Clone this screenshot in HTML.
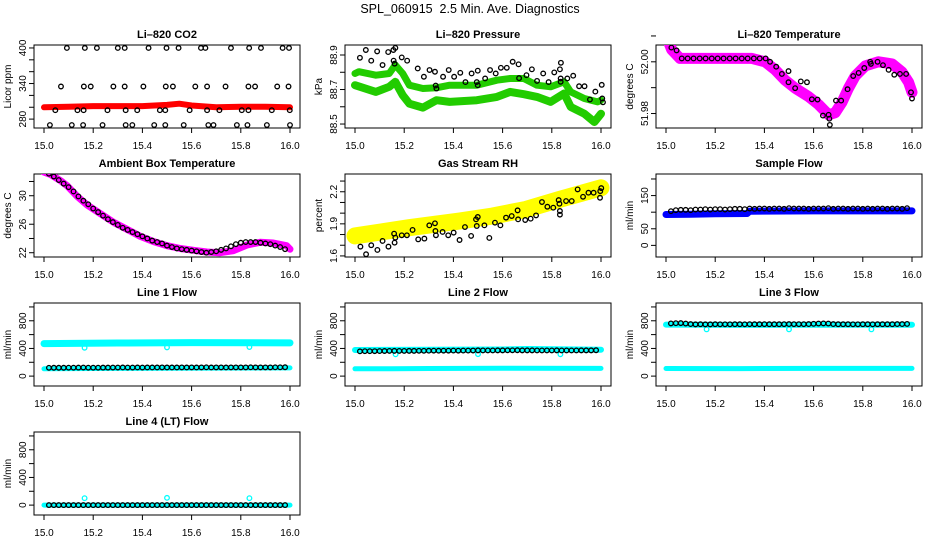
<!DOCTYPE html>
<html><head><meta charset="utf-8"><style>
body{margin:0;background:#fff;}
svg{display:block;font-family:"Liberation Sans",Arial,sans-serif;}
</style></head><body>
<svg id="c" width="936" height="540" viewBox="0 0 936 540">
<text x="470" y="13" font-size="12.5" text-anchor="middle">SPL_060915&#160; 2.5 Min. Ave. Diagnostics</text>
</svg>
<script>
// Shared 2.5-minute average times
const avgTimes=[15.02,15.04,15.06,15.08,15.10,15.12,15.14,15.16,15.18,15.20,15.22,15.24,15.26,15.28,15.30,15.32,15.34,15.36,15.38,15.40,15.42,15.44,15.46,15.48,15.50,15.52,15.54,15.56,15.58,15.60,15.62,15.64,15.66,15.68,15.70,15.72,15.74,15.76,15.78,15.80,15.82,15.84,15.86,15.88,15.90,15.92,15.94,15.96,15.98];
const xTicks=[15.0,15.2,15.4,15.6,15.8,16.0];
const xTickLabels=["15.0","15.2","15.4","15.6","15.8","16.0"];

// CO2
const co2Times=[15.093,15.166,15.215,15.300,15.328,15.425,15.498,15.547,15.638,15.656,15.760,15.834,15.882,15.970,15.996,
15.069,15.162,15.190,15.282,15.328,15.404,15.495,15.524,15.615,15.663,15.738,15.831,15.858,15.948,15.994,
15.046,15.136,15.161,15.258,15.332,15.379,15.471,15.493,15.592,15.663,15.713,15.804,15.831,15.926,15.999,
15.024,15.113,15.159,15.238,15.332,15.359,15.448,15.493,15.568,15.668,15.689,15.784,15.827,15.906,16.000];
const co2Values=[400,400,400,400,400,400,400,400,400,400,400,400,400,400,400,
335,335,335,335,335,335,335,335,335,335,335,335,335,335,335,
295,295,295,295,295,295,295,295,295,295,295,295,295,295,295,
270,270,270,270,270,270,270,270,270,270,270,270,270,270,270];
const co2BandTimes=[15.0,15.1,15.2,15.3,15.4,15.5,15.55,15.6,15.7,15.8,15.9,16.0];
const co2BandValues=[300,301,302,302,302,304,306,303,300,301,301,300];

// Pressure
const presTimes=[15.020,15.044,15.066,15.090,15.112,15.135,15.156,15.164,15.157,15.161,15.190,15.212,15.255,15.280,15.303,15.325,15.328,15.331,15.358,15.381,15.403,15.428,15.449,15.474,15.495,15.499,15.499,15.529,15.549,15.572,15.593,15.617,15.641,15.665,15.667,15.697,15.719,15.740,15.765,15.787,15.810,15.833,15.837,15.836,15.836,15.863,15.887,15.911,15.933,15.955,15.977,16.003,16.005,16.008];
const presValues=[88.884,88.929,88.867,88.921,88.842,88.917,88.929,88.941,88.867,88.850,88.886,88.867,88.822,88.774,88.813,88.803,88.723,88.706,88.774,88.813,88.774,88.797,88.743,88.793,88.743,88.809,88.725,88.764,88.813,88.793,88.826,88.826,88.861,88.846,88.766,88.783,88.817,88.750,88.793,88.743,88.799,88.817,88.855,88.764,88.745,88.764,88.780,88.719,88.719,88.642,88.688,88.727,88.648,88.626];
const presUpperTimes=[15.0,15.016,15.085,15.139,15.164,15.194,15.221,15.276,15.331,15.385,15.495,15.577,15.631,15.686,15.740,15.795,15.850,15.877,15.932,15.986,16.0];
const presUpperValues=[88.793,88.803,88.783,88.793,88.842,88.793,88.725,88.706,88.710,88.725,88.725,88.754,88.764,88.764,88.725,88.716,88.745,88.686,88.648,88.628,88.638];
const presLowerTimes=[15.0,15.085,15.139,15.164,15.194,15.221,15.276,15.331,15.385,15.495,15.577,15.631,15.686,15.740,15.795,15.850,15.877,15.932,15.973,16.0];
const presLowerValues=[88.725,88.686,88.716,88.745,88.667,88.618,88.595,88.638,88.628,88.638,88.657,88.686,88.673,88.657,88.628,88.677,88.599,88.560,88.512,88.560];

// Li-820 temperature
const tempTimes=[15.022,15.043,15.064,15.088,15.112,15.137,15.161,15.186,15.210,15.234,15.259,15.283,15.308,15.332,15.357,15.381,15.405,15.423,15.448,15.471,15.498,15.498,15.525,15.548,15.573,15.593,15.616,15.638,15.661,15.664,15.666,15.691,15.712,15.738,15.761,15.783,15.806,15.830,15.833,15.860,15.882,15.905,15.928,15.951,15.976,15.996,16.000];
const tempValues=[52.0055,52.0044,52.0013,52.0013,52.0013,52.0013,52.0013,52.0013,52.0013,52.0013,52.0013,52.0013,52.0013,52.0013,52.0013,52.0013,52.0013,52.0000,51.9981,51.9953,51.9964,51.9921,51.9898,51.9924,51.9921,51.9855,51.9854,51.9792,51.9795,51.9780,51.9756,51.9850,51.9850,51.9894,51.9945,51.9957,51.9976,52.0000,51.9992,52.0000,51.9987,51.9969,51.9950,51.9953,51.9953,51.9882,51.9858];
const tempBandTimes=[15.000,15.023,15.057,15.349,15.403,15.444,15.484,15.525,15.579,15.620,15.661,15.688,15.715,15.742,15.769,15.810,15.864,15.919,15.959,15.986,16.000];
const tempBandValues=[52.0102,52.0047,52.0013,52.0013,52.0000,51.9969,51.9929,51.9898,51.9866,51.9835,51.9795,51.9803,51.9843,51.9898,51.9945,51.9984,52.0000,51.9992,51.9961,51.9921,51.9882];

// Ambient box temperature
const ambValues=[33.1,32.7,32.2,31.7,31.2,30.6,29.9,29.3,28.8,28.2,27.7,27.2,26.7,26.3,25.9,25.5,25.2,24.9,24.6,24.3,24.0,23.7,23.5,23.3,23.0,22.8,22.6,22.5,22.4,22.3,22.2,22.1,22.0,22.1,22.2,22.4,22.6,22.9,23.2,23.4,23.5,23.5,23.5,23.4,23.3,23.2,23.0,22.8,22.5];
const ambBandTimes=[15.0,15.027,15.068,15.095,15.135,15.176,15.230,15.284,15.338,15.392,15.446,15.5,15.554,15.608,15.662,15.716,15.770,15.824,15.878,15.932,15.986,16.0];
const ambBandValues=[33.32,32.98,32.10,31.37,29.90,28.68,27.46,26.24,25.27,24.29,23.56,22.98,22.59,22.34,22.10,22.00,22.29,23.07,23.46,23.37,22.98,22.49];

// Gas stream RH
const rhTimes=[15.022,15.045,15.066,15.091,15.112,15.136,15.159,15.161,15.164,15.190,15.211,15.234,15.257,15.282,15.302,15.325,15.327,15.329,15.356,15.379,15.401,15.425,15.447,15.472,15.492,15.495,15.499,15.526,15.546,15.569,15.591,15.614,15.637,15.661,15.663,15.692,15.714,15.736,15.760,15.782,15.806,15.828,15.831,15.833,15.833,15.858,15.881,15.905,15.927,15.949,15.970,15.996,15.997,16.001];
const rhValues=[1.687,1.616,1.700,1.656,1.740,1.687,1.808,1.724,1.771,1.793,1.793,1.843,1.755,1.762,1.886,1.905,1.833,1.793,1.824,1.793,1.818,1.749,1.870,1.787,1.942,1.880,1.964,1.886,1.768,1.911,1.886,1.958,1.973,2.026,1.942,1.936,1.948,1.979,2.104,2.060,2.051,2.122,2.088,2.020,1.986,2.113,2.113,2.222,2.153,2.191,2.191,2.144,2.206,2.234];
const rhBandTimes=[15.0,15.22,15.424,15.56,15.695,15.83,16.0];
const rhBandValues=[1.787,1.864,1.926,1.973,2.035,2.128,2.237];

// Sample flow
const sampleValues=[103,106,107,107,106,108,108,109,108,109,109,108,109,110,110,109,111,110,111,111,110,111,111,110,112,111,111,111,110,111,111,111,112,110,111,111,110,111,111,110,111,110,111,111,110,111,111,110,112];
const sampleBandTimes=[15.0,15.1,15.2,15.33,15.34,15.6,16.0];
const sampleBandValues=[93,94,95,96,103,104,104];

// Line flows
const line1Values=[120,121,121,121,122,122,123,124,122,122,122,123,123,124,124,125,124,124,125,124,125,125,125,126,125,125,125,126,125,126,125,126,127,125,126,126,125,126,126,126,126,127,126,126,126,126,127,127,128];
const line1UpperTimes=[15.0,15.3,15.6,16.0];
const line1UpperValues=[470,478,484,480];
const line1LowerTimes=[15.0,15.3,16.0];
const line1LowerValues=[105,112,118];
const dipTimes=[15.165,15.5,15.835];
const line1DipValues=[410,415,420];
const line2Values=[358,360,360,361,362,363,364,365,364,364,365,365,366,366,367,368,367,368,368,369,368,369,369,370,372,371,371,371,372,372,373,373,374,372,372,372,371,371,371,371,372,371,371,371,371,372,372,372,374];
const line2UpperTimes=[15.0,15.3,15.6,15.7,16.0];
const line2UpperValues=[378,380,384,392,382];
const line2LowerTimes=[15.0,15.15,15.3,15.6,16.0];
const line2LowerValues=[105,106,110,115,112];
const line2DipValues=[315,318,316];
const line3Values=[762,765,766,760,752,748,750,748,748,750,749,749,749,750,750,749,751,750,750,751,750,750,750,751,752,751,751,751,752,756,760,762,760,752,750,750,750,749,749,750,750,749,750,750,750,750,752,752,754];
const line3UpperTimes=[15.0,15.3,15.6,16.0];
const line3UpperValues=[745,740,742,742];
const line3LowerTimes=[15.0,15.3,15.6,16.0];
const line3LowerValues=[110,108,112,112];
const line3DipValues=[676,676,676];
const line4Values=[0,0,0,0,0,0,0,0,0,0,0,0,0,0,0,0,0,0,0,0,0,0,0,0,0,0,0,0,0,0,0,0,0,0,0,0,0,0,0,0,0,0,0,0,0,0,0,0,0];
const line4BandTimes=[15.0,16.0];
const line4BandValues=[0,0];
const line4DipValues=[100,105,100];

const NS="http://www.w3.org/2000/svg";
const svg=document.getElementById('c');
const colLeft=[34,345,656], rowTop=[45,174,303,432], boxW=266, boxH=83;
function mk(tag,attrs,parent){const e=document.createElementNS(NS,tag);for(const k in attrs)e.setAttribute(k,attrs[k]);parent.appendChild(e);return e;}

function panel(p){
  const L=colLeft[p.col],T=rowTop[p.row];
  const g=mk('g',{},svg);
  
  
  const xs=v=>L+10+(v-15)*(boxW-20);
  const ys=v=>T+boxH-(v-p.ylim[0])/(p.ylim[1]-p.ylim[0])*boxH;
  const box=mk('rect',{x:L,y:T,width:boxW,height:boxH,fill:'none',stroke:'#000','stroke-width':1},g);
  
  
  const tt=mk('text',{x:L+boxW/2,y:T-7,'font-size':11,'font-weight':'bold','text-anchor':'middle'},g);
  tt.textContent=p.title;
  
  
  mk('line',{x1:xs(15),x2:xs(16),y1:T+boxH,y2:T+boxH,stroke:'#000'},g);
  xTicks.forEach((v,i)=>{
    mk('line',{x1:xs(v),x2:xs(v),y1:T+boxH,y2:T+boxH+5,stroke:'#000'},g);
    const t=mk('text',{x:xs(v),y:T+boxH+21,'font-size':10,'text-anchor':'middle'},g);
    t.textContent=xTickLabels[i];
    
    
  });
  p.yticks.forEach(v=>{mk('line',{x1:L-5,x2:L,y1:ys(v),y2:ys(v),stroke:'#000'},g);});
  p.ylabels.forEach(v=>{
    const t=mk('text',{x:0,y:0,'font-size':10,'text-anchor':'middle',transform:`translate(${L-8},${ys(v)}) rotate(-90)`},g);
    t.textContent=String(v);
    
    
  });
  const yl=mk('text',{x:0,y:0,'font-size':10,'text-anchor':'middle',transform:`translate(${L-23},${T+boxH/2}) rotate(-90)`},g);
  yl.textContent=p.ylab;
  
  
  const clip='clip'+p.col+p.row;
  const cp=mk('clipPath',{id:clip},g);mk('rect',{x:L,y:T,width:boxW,height:boxH},cp);
  const pg=mk('g',{'clip-path':`url(#${clip})`},g);
  (p.bands||[]).forEach(b=>{
    const d=b.t.map((t,i)=>(i?'L':'M')+xs(t).toFixed(1)+','+ys(b.v[i]).toFixed(1)).join(' ');
    const pa=mk('path',{d:d,fill:'none',stroke:b.c,'stroke-width':b.w,'stroke-linejoin':'round','stroke-linecap':'round'},pg);
    
    
  });
  (p.pts||[]).forEach(s=>{
    s.t.forEach((t,i)=>{
      const c=mk('circle',{cx:xs(t),cy:ys(s.v[i]),r:2.3,fill:'none',stroke:s.c,'stroke-width':1.3},pg);
      
      
    });
  });
}
const flowTicks=[0,200,400,600,800,1000], flowLabels=[0,400,800], flowLim=[-143,1057];
panel({name:'co2-panel',col:0,row:0,title:'Li–820 CO2',ylab:'Licor ppm',ylim:[265,405],yticks:[280,300,320,340,360,380,400],ylabels:[280,340,400],
 bands:[{t:co2BandTimes,v:co2BandValues,c:'#ff0000',w:6}],pts:[{t:co2Times,v:co2Values,c:'#000'}]});
panel({name:'pressure-panel',col:1,row:0,title:'Li–820 Pressure',ylab:'kPa',ylim:[88.477,88.958],yticks:[88.5,88.6,88.7,88.8,88.9],ylabels:[88.5,88.7,88.9],
 bands:[{t:presUpperTimes,v:presUpperValues,c:'#22cc00',w:7},{t:presLowerTimes,v:presLowerValues,c:'#22cc00',w:8}],pts:[{t:presTimes,v:presValues,c:'#000'}]});
panel({name:'li820-temperature-panel',col:2,row:0,title:'Li–820 Temperature',ylab:'degrees C',ylim:[51.9744,52.0065],yticks:[51.98,51.99,52.00,52.01],ylabels:['51.98','52.00'],
 bands:[{t:tempBandTimes,v:tempBandValues,c:'#ff00ff',w:11}],pts:[{t:tempTimes,v:tempValues,c:'#000'}]});
panel({name:'ambient-temperature-panel',col:0,row:1,title:'Ambient Box Temperature',ylab:'degrees C',ylim:[21.4,33.05],yticks:[22,24,26,28,30,32],ylabels:[22,26,30],
 bands:[{t:ambBandTimes,v:ambBandValues,c:'#ff00ff',w:7}],pts:[{t:avgTimes,v:ambValues,c:'#000'}]});
panel({name:'rh-panel',col:1,row:1,title:'Gas Stream RH',ylab:'percent',ylim:[1.59,2.366],yticks:[1.6,1.7,1.8,1.9,2.0,2.1,2.2,2.3],ylabels:['1.6','1.9','2.2'],
 bands:[{t:rhBandTimes,v:rhBandValues,c:'#ffff00',w:17}],pts:[{t:rhTimes,v:rhValues,c:'#000'}]});
panel({name:'sample-flow-panel',col:2,row:1,title:'Sample Flow',ylab:'ml/min',ylim:[-35,215],yticks:[0,50,100,150,200],ylabels:[0,50,150],
 bands:[{t:sampleBandTimes,v:sampleBandValues,c:'#0000ff',w:7}],pts:[{t:avgTimes,v:sampleValues,c:'#000'}]});
panel({name:'line1-flow-panel',col:0,row:2,title:'Line 1 Flow',ylab:'ml/min',ylim:flowLim,yticks:flowTicks,ylabels:flowLabels,
 bands:[{t:line1UpperTimes,v:line1UpperValues,c:'#00ffff',w:7},{t:line1LowerTimes,v:line1LowerValues,c:'#00ffff',w:5}],
 pts:[{t:dipTimes,v:line1DipValues,c:'#00ffff'},{t:avgTimes,v:line1Values,c:'#000'}]});
panel({name:'line2-flow-panel',col:1,row:2,title:'Line 2 Flow',ylab:'ml/min',ylim:flowLim,yticks:flowTicks,ylabels:flowLabels,
 bands:[{t:line2UpperTimes,v:line2UpperValues,c:'#00ffff',w:6},{t:line2LowerTimes,v:line2LowerValues,c:'#00ffff',w:5}],
 pts:[{t:dipTimes,v:line2DipValues,c:'#00ffff'},{t:avgTimes,v:line2Values,c:'#000'}]});
panel({name:'line3-flow-panel',col:2,row:2,title:'Line 3 Flow',ylab:'ml/min',ylim:flowLim,yticks:flowTicks,ylabels:flowLabels,
 bands:[{t:line3UpperTimes,v:line3UpperValues,c:'#00ffff',w:6},{t:line3LowerTimes,v:line3LowerValues,c:'#00ffff',w:5}],
 pts:[{t:dipTimes,v:line3DipValues,c:'#00ffff'},{t:avgTimes,v:line3Values,c:'#000'}]});
panel({name:'line4-flow-panel',col:0,row:3,title:'Line 4 (LT) Flow',ylab:'ml/min',ylim:flowLim,yticks:flowTicks,ylabels:flowLabels,
 bands:[{t:line4BandTimes,v:line4BandValues,c:'#00ffff',w:5}],
 pts:[{t:dipTimes,v:line4DipValues,c:'#00ffff'},{t:avgTimes,v:line4Values,c:'#000'}]});
</script>
</body></html>
